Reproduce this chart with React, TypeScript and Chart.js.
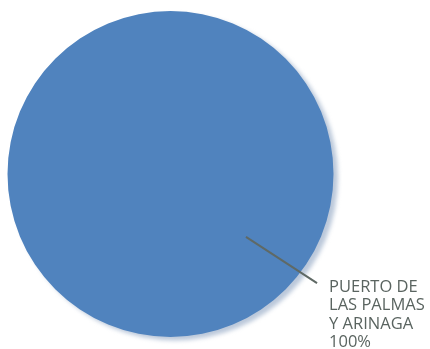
import React, { useEffect, useRef } from "react";
import { Chart, registerables } from "chart.js";

Chart.register(...registerables);

const categories = ["PUERTO DE LAS PALMAS Y ARINAGA"];
const labelLines = ["PUERTO DE", "LAS PALMAS", "Y ARINAGA"];
const values = [100];
const percentLabels = ["100%"];

const shadowPlugin = {
  id: "pieShadow",
  beforeDatasetsDraw(chart: any) {
    const meta = chart.getDatasetMeta(0);
    const arc = meta.data[0];
    if (!arc) return;
    const { x, y, outerRadius } = arc.getProps(["x", "y", "outerRadius"], true);
    const ctx = chart.ctx;
    ctx.save();
    ctx.filter = "blur(2px)";
    ctx.beginPath();
    ctx.arc(x + 4.5, y + 3.5, outerRadius, 0, Math.PI * 2);
    ctx.fillStyle = "rgba(175,190,212,0.85)";
    ctx.fill();
    ctx.restore();
  },
};

const labelPlugin = {
  id: "pieLabel",
  afterDatasetsDraw(chart: any) {
    const meta = chart.getDatasetMeta(0);
    const arc = meta.data[0];
    if (!arc) return;
    const { x, y, outerRadius } = arc.getProps(["x", "y", "outerRadius"], true);
    const ctx = chart.ctx;
    const r = outerRadius;
    const sx = x + r * 0.463;
    const sy = y + r * 0.386;
    const ex = x + r * 0.899;
    const ey = y + r * 0.669;
    ctx.save();
    ctx.strokeStyle = "#5f6965";
    ctx.lineWidth = 2;
    ctx.beginPath();
    ctx.moveTo(sx, sy);
    ctx.lineTo(ex, ey);
    ctx.stroke();
    ctx.fillStyle = "#5a6460";
    ctx.font = "16.5px 'Open Sans'";
    ctx.textBaseline = "middle";
    ctx.textAlign = "left";
    const lines = [...labelLines, percentLabels[0]];
    const tx = ex + 12;
    lines.forEach((t, i) => {
      ctx.fillText(t, tx, ey + 4 + i * 18.5);
    });
    ctx.restore();
  },
};

export default function App() {
  const ref = useRef<HTMLCanvasElement | null>(null);
  useEffect(() => {
    if (!ref.current) return;
    const chart = new Chart(ref.current, {
      type: "pie",
      data: {
        labels: categories,
        datasets: [
          {
            data: values,
            backgroundColor: ["#5083be"],
            borderWidth: 0,
          },
        ],
      },
      options: {
        animation: false,
        responsive: false,
        layout: { padding: { left: 7.5, top: 11, bottom: 12, right: 96.5 } },
        plugins: {
          legend: { display: false },
          tooltip: { enabled: false },
        },
      },
      plugins: [shadowPlugin, labelPlugin],
    });
    return () => chart.destroy();
  }, []);
  return (
    <div style={{ position: "fixed", left: 0, top: 0, width: 430, height: 349, background: "#fff" }}>
      <canvas ref={ref} width={430} height={349} style={{ display: "block" }} />
    </div>
  );
}
